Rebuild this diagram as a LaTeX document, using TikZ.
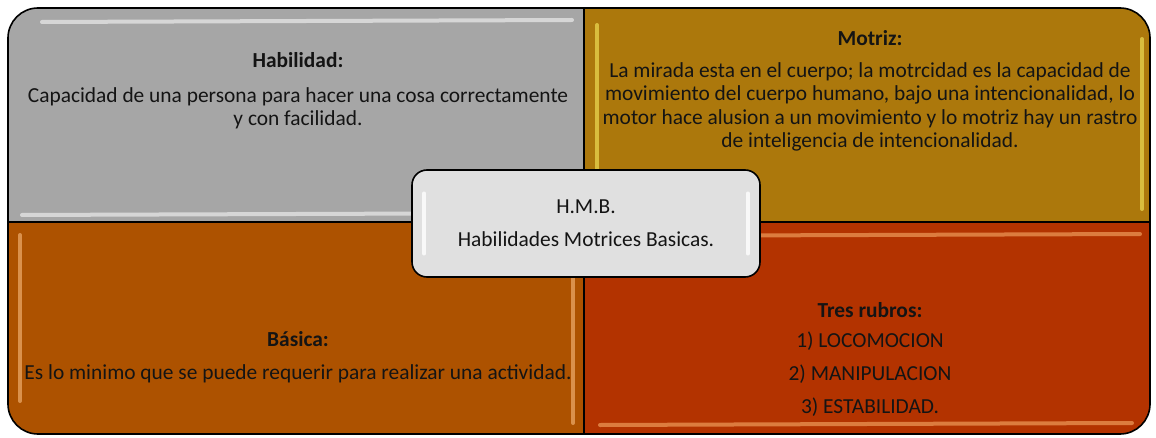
\documentclass[tikz,border=0pt]{standalone}
\usepackage{fontspec}
\setmainfont{Carlito}
\definecolor{hgray}{HTML}{A6A6A6}
\definecolor{hgold}{HTML}{AC780C}
\definecolor{horange}{HTML}{AD5200}
\definecolor{hred}{HTML}{B33300}
\definecolor{hcenter}{HTML}{E0E0E0}
\definecolor{htext}{HTML}{141414}
\begin{document}
\begin{tikzpicture}[
              x=1pt, y=1pt,
              quad/.style={draw=black, line width=1.6pt, line join=round},
              shine/.style={line width=4pt, line cap=round, opacity=0.55},
              label/.style={align=center, text=htext, font=\fontsize{21.4}{23.3}\selectfont, inner sep=0pt}
            ]
              \useasboundingbox (0,0) rectangle (1156,437);
              \filldraw[quad, fill=hgray] (8,215) -- (8,399) arc[start angle=180, end angle=90, radius=30] -- (584,429) -- (584,215) -- cycle;
              \filldraw[quad, fill=hgold] (584,215) -- (584,429) -- (1120,429) arc[start angle=90, end angle=0, radius=30] -- (1150,215) -- cycle;
              \filldraw[quad, fill=horange] (8,215) -- (8,33) arc[start angle=180, end angle=270, radius=30] -- (584,3) -- (584,215) -- cycle;
              \filldraw[quad, fill=hred] (584,215) -- (584,3) -- (1120,3) arc[start angle=270, end angle=360, radius=30] -- (1150,215) -- cycle;
              \draw[shine, white] (42,415) -- (572,417);
              \draw[shine, white] (22,222) -- (570,224);
              \draw[shine, yellow!60!white] (597,412) -- (597,228);
              \draw[shine, yellow!60!white] (1142,398) -- (1142,228);
              \draw[shine, orange!45!white] (20,202) -- (20,36);
              \draw[shine, orange!45!white] (573,202) -- (573,14);
              \draw[shine, orange!55!white] (597,201) -- (1140,203);
              \draw[shine, orange!55!white] (600,12) -- (1132,14);
              \node[label] (habilidad) at (298,346.5) {\textbf{Habilidad:}\\[12pt]Capacidad de una persona para hacer una cosa correctamente\\[-1pt]y con facilidad.};
              \node[label] (motriz) at (870,346) {\textbf{Motriz:}\\[8.5pt]La mirada esta en el cuerpo; la motrcidad es la capacidad de\\movimiento del cuerpo humano, bajo una intencionalidad, lo\\motor hace alusion a un movimiento y lo motriz hay un rastro\\de inteligencia de intencionalidad.};
              \node[label] (basica) at (298,79.5) {\textbf{Básica:}\\[9.7pt]Es lo minimo que se puede requerir para realizar una actividad.};
              \node[label] (rubros) at (870,78) {\textbf{Tres rubros:}\\[6.7pt]1) LOCOMOCION\\[9.7pt]2) MANIPULACION\\[9.7pt]3) ESTABILIDAD.};
              \node[draw=black, line width=1.6pt, fill=hcenter, rounded corners=15pt, minimum width=348pt, minimum height=107pt] (hmb) at (586,213.5) {};
              \draw[shine, white, opacity=0.8] (hmb.west) ++(13,30) -- ++(0,-60);
              \draw[shine, white, opacity=0.8] (hmb.east) ++(-13,30) -- ++(0,-60);
              \node[label] (hmbtext) at (hmb.center) {H.M.B.\\[9.7pt]Habilidades Motrices Basicas.};
\end{tikzpicture}
\end{document}
